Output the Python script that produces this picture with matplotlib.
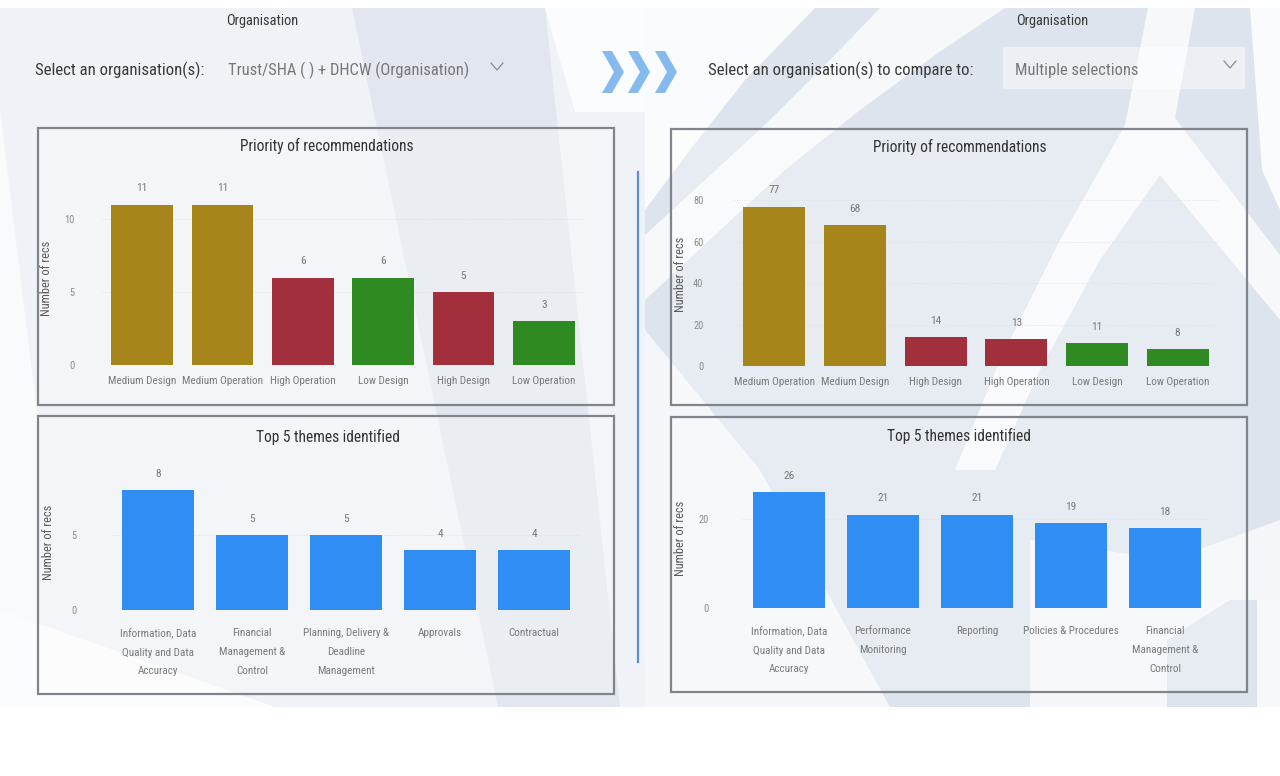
import numpy as np
import matplotlib
matplotlib.use("Agg")
import matplotlib.pyplot as plt
from matplotlib import font_manager as fm
from matplotlib.patches import Polygon, Rectangle
from matplotlib.lines import Line2D

# ---------------------------------------------------------------- data
org_label = "Organisation"
left_prompt = "Select an organisation(s):"
left_selection = "Trust/SHA ( ) + DHCW (Organisation)"
right_prompt = "Select an organisation(s) to compare to:"
right_selection = "Multiple selections"

priority_title = "Priority of recommendations"
themes_title = "Top 5 themes identified"
y_axis_label = "Number of recs"

left_priority_cats = ["Medium Design", "Medium Operation", "High Operation",
                      "Low Design", "High Design", "Low Operation"]
left_priority_vals = [11, 11, 6, 6, 5, 3]

right_priority_cats = ["Medium Operation", "Medium Design", "High Design",
                       "High Operation", "Low Design", "Low Operation"]
right_priority_vals = [77, 68, 14, 13, 11, 8]

left_theme_cats = ["Information, Data\nQuality and Data\nAccuracy",
                   "Financial\nManagement &\nControl",
                   "Planning, Delivery &\nDeadline\nManagement",
                   "Approvals", "Contractual"]
left_theme_vals = [8, 5, 5, 4, 4]

right_theme_cats = ["Information, Data\nQuality and Data\nAccuracy",
                    "Performance\nMonitoring", "Reporting",
                    "Policies & Procedures",
                    "Financial\nManagement &\nControl"]
right_theme_vals = [26, 21, 21, 19, 18]

priority_colors = {"Medium": "#a6861a", "High": "#a1303c", "Low": "#2f8a22"}
theme_color = "#2f8df3"

# ---------------------------------------------------------------- fonts
available = {f.name for f in fm.fontManager.ttflist}
FONT, SZ = "DejaVu Sans", 0.75
for cand, k in [("Roboto Condensed", 1.0), ("Liberation Sans Narrow", 1.05),
                ("Open Sans", 0.82), ("Lato", 0.86)]:
    if cand in available:
        FONT, SZ = cand, k
        break
plt.rcParams["font.family"] = [FONT, "DejaVu Sans"]

W, H = 1280, 776
fig = plt.figure(figsize=(W / 100, H / 100), dpi=100)
fig.patch.set_facecolor("white")


def px_axes(x0, y0, x1, y1, **kw):
    return fig.add_axes([x0 / W, 1 - y1 / H, (x1 - x0) / W, (y1 - y0) / H], **kw)


def ftext(x, y, s, **kw):
    fig.text(x / W, 1 - y / H, s, **kw)


# ---------------------------------------------------------------- backdrop
bg = px_axes(0, 0, W, H, zorder=-10)
bg.set_xlim(0, W)
bg.set_ylim(H, 0)
bg.axis("off")


def poly(pts, color, alpha=1.0):
    bg.add_patch(Polygon(pts, closed=True, facecolor=color, edgecolor="none",
                         alpha=alpha))


# left half
poly([(0, 8), (645, 8), (645, 707), (0, 707)], "#eff2f7")
poly([(0, 110), (38, 420), (38, 707), (0, 707)], "#f9fafc")
poly([(0, 610), (275, 707), (0, 707)], "#fbfcfd")
poly([(352, 8), (545, 8), (620, 707), (498, 707)], "#e2e7ef")
poly([(545, 8), (700, 8), (700, 112), (575, 112)], "#fbfcfd")
# right half
poly([(645, 8), (1280, 8), (1280, 707), (645, 707)], "#dee4ed")
poly([(645, 8), (815, 8), (745, 80), (690, 150), (645, 210)], "#fafbfc")
poly([(880, 8), (1005, 8), (935, 55), (860, 110), (785, 170), (715, 235),
      (645, 300), (645, 235), (705, 180), (770, 120), (830, 60)], "#f7f8fa")
poly([(1148, 8), (1195, 8), (1175, 118), (1280, 255), (1280, 320),
      (1160, 175), (1100, 260), (1040, 370), (995, 470), (955, 470),
      (1000, 360), (1060, 240), (1125, 125)], "#f7f8fa")
poly([(1250, 8), (1280, 8), (1280, 210), (1262, 170)], "#fafbfc")
poly([(645, 330), (760, 470), (890, 707), (645, 707)], "#f4f6f9")
poly([(1030, 540), (1170, 560), (1280, 520), (1280, 707), (1030, 707)], "#f4f6f9")
poly([(1167, 640), (1230, 600), (1280, 600), (1280, 707), (1167, 707)], "#dee4ed")
poly([(1257, 600), (1280, 600), (1280, 707), (1257, 707)], "#f7f8fa")
bg.add_patch(Rectangle((0, 707), W, H - 707, facecolor="white", edgecolor="none"))

# chevrons between the two selectors
for x0 in (602, 628, 655):
    poly([(x0, 51), (x0 + 10, 51), (x0 + 22, 72), (x0 + 10, 93), (x0, 93),
          (x0 + 12, 72)], "#86baef")

# dropdown box on the right selector
bg.add_patch(Rectangle((1003, 47), 242, 42, facecolor="white", edgecolor="none",
                       alpha=0.45))

# dropdown arrows
for cx, cy in ((497, 67), (1230, 65)):
    bg.add_line(Line2D([cx - 6, cx, cx + 6], [cy - 4, cy + 3, cy - 4],
                       color="#8a8a8a", lw=0.9))

# divider between the two sides
bg.add_line(Line2D([638, 638], [172, 662], color="#5d8fcf", lw=1.6))

# panel frames
for (x0, y0, x1, y1) in [(38, 128, 614, 405), (671, 129, 1247, 405),
                         (38, 416, 614, 694), (671, 417, 1247, 692)]:
    bg.add_patch(Rectangle((x0, y0), x1 - x0, y1 - y0, facecolor="white",
                           alpha=0.3, edgecolor="none"))
    bg.add_patch(Rectangle((x0, y0), x1 - x0, y1 - y0, facecolor="none",
                           edgecolor="#80858d", lw=1.6))

# ---------------------------------------------------------------- header text
HEAD = "#3a3a3a"
SEL = "#777777"
ftext(262, 21, org_label, ha="center", va="center", fontsize=10.4 * SZ, color=HEAD)
ftext(1052, 21, org_label, ha="center", va="center", fontsize=10.4 * SZ, color=HEAD)
ftext(35, 70, left_prompt, ha="left", va="center", fontsize=12.1 * SZ, color=HEAD)
ftext(228, 70, left_selection, ha="left", va="center", fontsize=11.9 * SZ, color=SEL)
ftext(708, 70, right_prompt, ha="left", va="center", fontsize=12.1 * SZ, color=HEAD)
ftext(1015, 70, right_selection, ha="left", va="center", fontsize=11.9 * SZ, color=SEL)

# panel titles
TITLE = "#333333"
ftext(327, 146, priority_title, ha="center", va="center", fontsize=11.2 * SZ, color=TITLE)
ftext(960, 147, priority_title, ha="center", va="center", fontsize=11.2 * SZ, color=TITLE)
ftext(328, 437, themes_title, ha="center", va="center", fontsize=11.2 * SZ, color=TITLE)
ftext(959, 436, themes_title, ha="center", va="center", fontsize=11.2 * SZ, color=TITLE)

# y-axis titles
for (x, y) in ((47, 278), (681, 274), (48, 542), (681, 538)):
    ftext(x, y, y_axis_label, ha="center", va="center", rotation=90,
          fontsize=8.9 * SZ, color="#5a5a5a")


# ---------------------------------------------------------------- charts
TICK = "#8c8c8c"
VAL = "#7a7a7a"


def bar_chart(rect, cats, vals, colors, ylim, yticks, ypad, xpad):
    ax = px_axes(*rect)
    ax.patch.set_alpha(0)
    x = np.arange(len(cats))
    ax.bar(x, vals, width=0.77, color=colors, zorder=3)
    ax.set_xlim(-0.5, len(cats) - 0.5)
    ax.set_ylim(*ylim)
    ax.set_yticks(yticks)
    ax.set_xticks(x)
    ax.set_xticklabels(cats, linespacing=2.1)
    for s in ax.spines.values():
        s.set_visible(False)
    ax.tick_params(axis="both", length=0, colors=TICK)
    ax.tick_params(axis="y", pad=ypad, labelsize=7.5 * SZ)
    ax.tick_params(axis="x", pad=xpad, labelsize=8.0 * SZ, labelcolor="#7a7a7a")
    ax.grid(axis="y", color="#d8dce3", lw=0.6, ls=(0, (1, 2)), zorder=0)
    for xi, v in zip(x, vals):
        ax.annotate(str(v), (xi, v), xytext=(0, 8), textcoords="offset points",
                    ha="center", va="bottom", fontsize=8.2 * SZ, color=VAL,
                    annotation_clip=False)
    return ax


lp_colors = [priority_colors[c.split()[0]] for c in left_priority_cats]
rp_colors = [priority_colors[c.split()[0]] for c in right_priority_cats]

bar_chart((102, 190, 584, 365), left_priority_cats, left_priority_vals, lp_colors,
          (0, 12), [0, 5, 10], 20, 8)
bar_chart((734, 190, 1218, 366), right_priority_cats, right_priority_vals, rp_colors,
          (0, 85), [0, 20, 40, 60, 80], 22, 8)
bar_chart((111, 467.5, 581, 610), left_theme_cats, left_theme_vals,
          [theme_color] * len(left_theme_vals), (0, 9.5), [0, 5], 25, 13)
bar_chart((742, 474.5, 1212, 608), right_theme_cats, right_theme_vals,
          [theme_color] * len(right_theme_vals), (0, 30), [0, 20], 24, 13)

fig.savefig("out.png", dpi=100, facecolor="white")
